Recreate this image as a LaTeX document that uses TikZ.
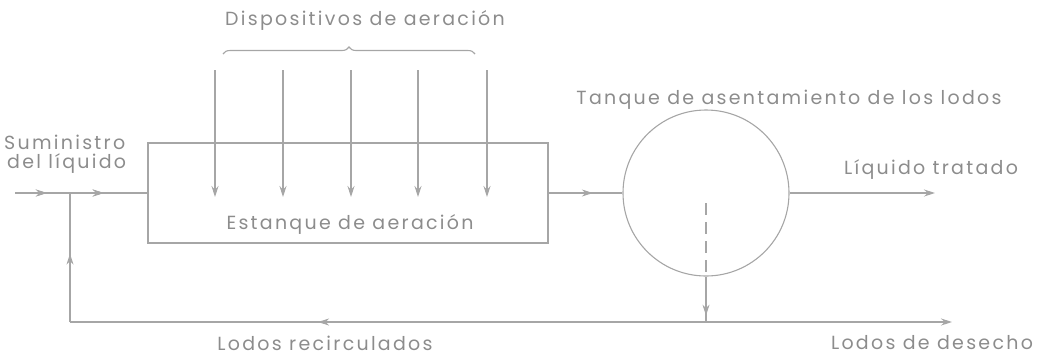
\documentclass[tikz,border=0pt]{standalone}
\usepackage{fontspec}
\setmainfont{Poppins}[LetterSpace=12]
\usetikzlibrary{arrows.meta,decorations.markings,decorations.pathreplacing}
\definecolor{lineg}{HTML}{A6A6A6}
\definecolor{textg}{HTML}{8C8C8C}
\begin{document}
\begin{tikzpicture}[x=1pt,y=-1pt,
  every node/.style={text=textg, font=\fontsize{19}{21}\selectfont},
  flow/.style={draw=lineg, line width=1.1pt},
  endtip/.style={-{Stealth[length=11pt,width=7pt]}},
  midarrow/.style={postaction={decorate}, decoration={markings, mark=at position #1 with {\arrow{Stealth[length=11pt,width=7pt]}}}},
  dashline/.style={draw=lineg, line width=1.1pt, dash pattern=on 12pt off 7pt},
  label/.style={inner sep=0pt}]
\useasboundingbox (0,0) rectangle (1039,360);

% aeration tank and settling tank
\node[flow, minimum width=400pt, minimum height=100pt, inner sep=0pt] (tank) at (348,193) {};
\node[flow, circle, minimum size=166pt, inner sep=0pt] (clar) at (706,193) {};

% labels
\node[label] (tdisp) at (365,20) {Dispositivos de aeración};
\node[label, anchor=west] (tsum) at (4,142) {Suministro};
\node[label, anchor=west] (tdel) at (7,164) {del líquido};
\node[label] (test) at (350,224) {Estanque de aeración};
\node[label] (ttan) at (789,100) {Tanque de asentamiento de los lodos};
\node[label] (tliq) at (931,170) {Líquido tratado};
\node[label] (trec) at (325,343) {Lodos recirculados};
\node[label] (tdes) at (932,343) {Lodos de desecho};

% brace
\coordinate (bl) at (223,54);
\coordinate (br) at (475,54);
\draw[flow, decorate, decoration={brace, amplitude=7pt}] (bl) -- (br);

% aeration devices
\foreach \i/\x in {1/215,2/283,3/351,4/418,5/487}{
  \coordinate (at\i) at (\x,70);
  \coordinate (ab\i) at (\x,197);
  \draw[flow, endtip] (at\i) -- (ab\i);
}

% input line
\coordinate (in) at (15,193);
\coordinate (jn) at (70,193);
\draw[flow, midarrow=0.24, midarrow=0.67] (in) -- (tank.west);

% tank to clarifier
\draw[flow, midarrow=0.6] (tank.east) -- (clar.west);

% clarifier out
\coordinate (out) at (935,193);
\draw[flow, endtip] (clar.east) -- (out);

% dashed line inside clarifier
\coordinate (cd) at (706,203);
\draw[dashline] (cd) -- (clar.south);

% sludge down
\coordinate (bj) at (706,322);
\draw[flow, midarrow=0.86] (clar.south) -- (bj);

% waste sludge
\coordinate (wo) at (952,322);
\draw[flow, endtip] (bj) -- (wo);

% recirculated sludge
\coordinate (bc) at (70,322);
\draw[flow, midarrow=0.61] (bj) -- (bc);
\draw[flow, midarrow=0.53] (bc) -- (jn);
\end{tikzpicture}
\end{document}
